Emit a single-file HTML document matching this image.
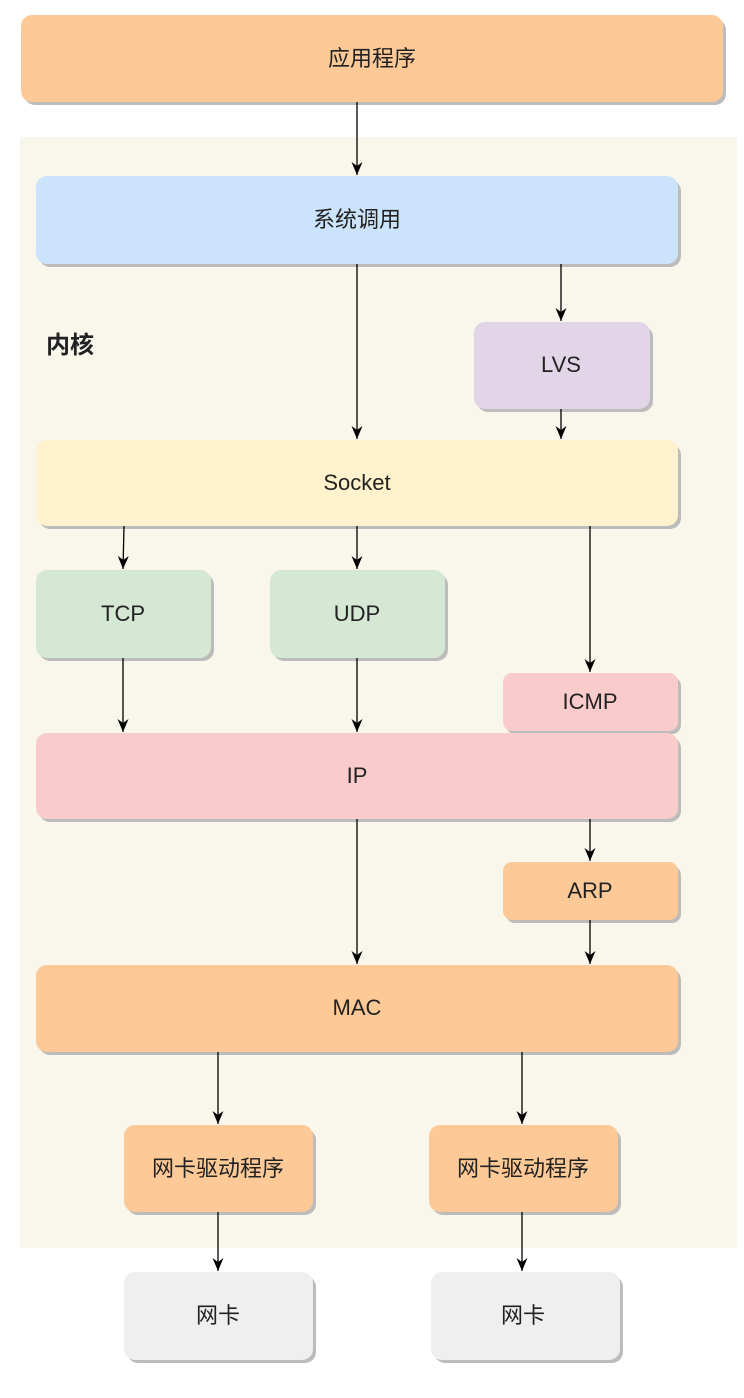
<!DOCTYPE html>
<html><head><meta charset="utf-8"><style>
html,body{margin:0;padding:0;background:#fff;}
svg text{font-family:"Liberation Sans","Noto Sans CJK SC",sans-serif;fill:#222;}
</style></head><body>
<svg width="744" height="1393" viewBox="0 0 744 1393" xmlns="http://www.w3.org/2000/svg">
<defs>
<marker id="a" markerWidth="14" markerHeight="14" refX="13" refY="6" orient="auto" markerUnits="userSpaceOnUse"><path d="M0,0.5 L13,6 L0,11.5 L4,6 Z" fill="#000"/></marker>
</defs>
<rect x="20" y="137" width="717" height="1111" fill="#f9f6ec"/>
<g fill="#bcbcbc">
<rect x="24" y="19" width="702" height="86" rx="11"/>
<rect x="39" y="180" width="642" height="87" rx="11"/>
<rect x="477" y="326" width="176" height="86" rx="11"/>
<rect x="39" y="444" width="642" height="85" rx="11"/>
<rect x="39" y="574" width="175" height="87" rx="11"/>
<rect x="273" y="574" width="175" height="87" rx="11"/>
<rect x="506" y="677" width="175" height="57" rx="9"/>
<rect x="39" y="737" width="642" height="85" rx="11"/>
<rect x="506" y="866" width="175" height="57" rx="9"/>
<rect x="39" y="969" width="642" height="86" rx="11"/>
<rect x="127" y="1129" width="189" height="86" rx="11"/>
<rect x="432" y="1129" width="189" height="86" rx="11"/>
<rect x="127" y="1276" width="189" height="87" rx="11"/>
<rect x="434" y="1276" width="189" height="87" rx="11"/>
</g>
<rect x="21" y="15" width="702" height="87" rx="11" fill="#fdc996"/>
<rect x="36" y="176" width="642" height="88" rx="11" fill="#cce4fb"/>
<rect x="474" y="322" width="176" height="87" rx="11" fill="#e1d5e7"/>
<rect x="36" y="440" width="642" height="86" rx="11" fill="#fff2cc"/>
<rect x="36" y="570" width="175" height="88" rx="11" fill="#d5e8d4"/>
<rect x="270" y="570" width="175" height="88" rx="11" fill="#d5e8d4"/>
<rect x="503" y="673" width="175" height="58" rx="9" fill="#f9cccb"/>
<rect x="36" y="733" width="642" height="86" rx="11" fill="#f9cccb"/>
<rect x="503" y="862" width="175" height="58" rx="9" fill="#fdc996"/>
<rect x="36" y="965" width="642" height="87" rx="11" fill="#fdc996"/>
<rect x="124" y="1125" width="189" height="87" rx="11" fill="#fdc996"/>
<rect x="429" y="1125" width="189" height="87" rx="11" fill="#fdc996"/>
<rect x="124" y="1272" width="189" height="88" rx="11" fill="#efefef"/>
<rect x="431" y="1272" width="189" height="88" rx="11" fill="#efefef"/>
<g stroke="#000" stroke-width="1.3" marker-end="url(#a)">
<line x1="357" y1="102" x2="357" y2="175"/>
<line x1="357" y1="264" x2="357" y2="439"/>
<line x1="561" y1="264" x2="561" y2="321"/>
<line x1="561" y1="409" x2="561" y2="439"/>
<line x1="124" y1="526" x2="123" y2="569"/>
<line x1="357" y1="526" x2="357" y2="569"/>
<line x1="590" y1="526" x2="590" y2="672"/>
<line x1="123" y1="658" x2="123" y2="732"/>
<line x1="357" y1="658" x2="357" y2="732"/>
<line x1="590" y1="819" x2="590" y2="861"/>
<line x1="590" y1="920" x2="590" y2="964"/>
<line x1="357" y1="819" x2="357" y2="964"/>
<line x1="218" y1="1052" x2="218" y2="1124"/>
<line x1="522" y1="1052" x2="522" y2="1124"/>
<line x1="218" y1="1212" x2="218" y2="1271"/>
<line x1="522" y1="1212" x2="522" y2="1271"/>
</g>
<g font-size="22" text-anchor="middle">
<text x="372" y="66">应用程序</text>
<text x="357" y="227">系统调用</text>
<text x="561" y="372">LVS</text>
<text x="357" y="490">Socket</text>
<text x="123" y="621">TCP</text>
<text x="357" y="621">UDP</text>
<text x="590" y="709">ICMP</text>
<text x="357" y="783">IP</text>
<text x="590" y="898">ARP</text>
<text x="357" y="1015">MAC</text>
<text x="218" y="1176">网卡驱动程序</text>
<text x="523" y="1176">网卡驱动程序</text>
<text x="218" y="1323">网卡</text>
<text x="523" y="1323">网卡</text>
</g>
<text x="46" y="353" font-size="24" font-weight="bold" fill="#111">内核</text>
</svg>
</body></html>
